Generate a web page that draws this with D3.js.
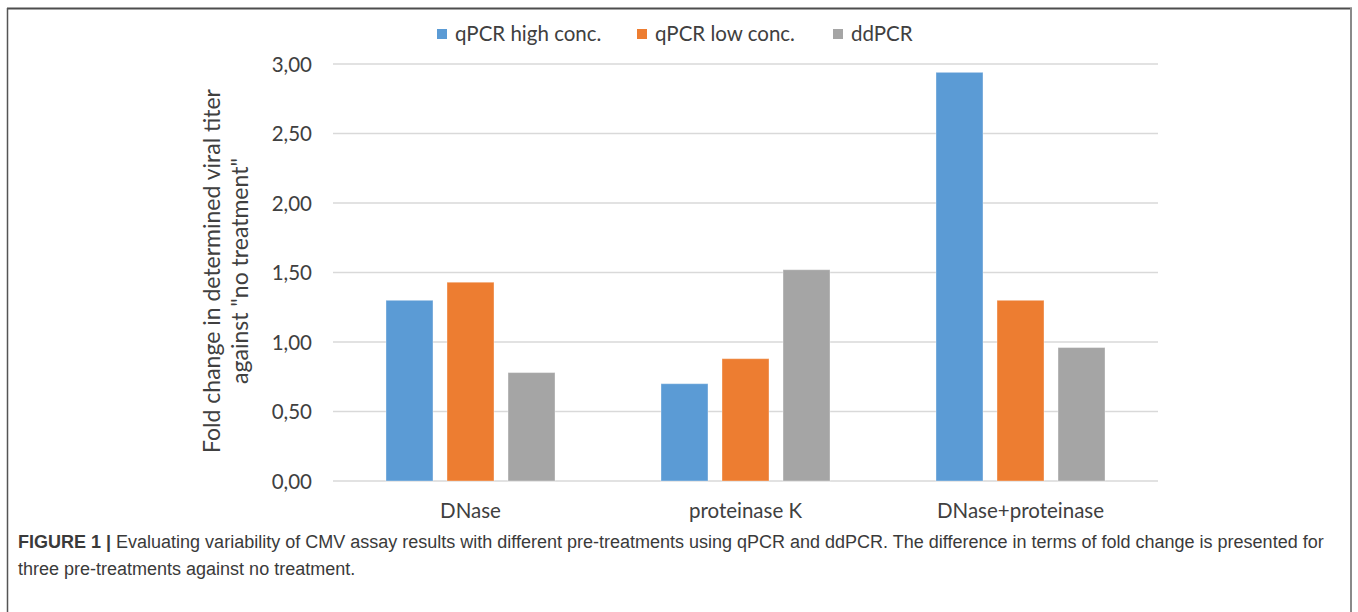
<!DOCTYPE html>
<html>
<head>
<meta charset="utf-8">
<script src="https://cdn.jsdelivr.net/npm/d3@7/dist/d3.min.js"></script>
<style>
  html, body { margin: 0; padding: 0; background: #fff; }
  svg { display: block; }
</style>
</head>
<body>
<svg id="chart" width="1358" height="612"></svg>
<script>
// ---- data ----
const categories = ["DNase", "proteinase K", "DNase+proteinase"];
const seriesNames = ["qPCR high conc.", "qPCR low conc.", "ddPCR"];
const qpcrHigh = [1.30, 0.70, 2.94];
const qpcrLow = [1.43, 0.88, 1.30];
const ddpcr = [0.78, 1.52, 0.96];
const yTicks = [0, 0.5, 1, 1.5, 2, 2.5, 3];
const colors = ["#5b9bd5", "#ed7d31", "#a5a5a5"];
const yTitleLines = ["Fold change in determined viral titer", "against \"no treatment\""];
const captionBold = "FIGURE 1 |";
const captionLine1 = " Evaluating variability of CMV assay results with different pre-treatments using qPCR and ddPCR. The difference in terms of fold change is presented for";
const captionLine2 = "three pre-treatments against no treatment.";

const seriesValues = [qpcrHigh, qpcrLow, ddpcr];

const svg = d3.select("#chart");
const chartFont = "Lato, 'Open Sans', sans-serif";
const captionFont = "'Liberation Sans', Arial, sans-serif";

// frame
svg.append("line").attr("x1", 7).attr("x2", 1352).attr("y1", 8.5).attr("y2", 8.5)
  .attr("stroke", "#4d4d4d").attr("stroke-width", 2);
svg.append("line").attr("x1", 7.5).attr("x2", 7.5).attr("y1", 8).attr("y2", 612)
  .attr("stroke", "#555").attr("stroke-width", 1.5);
svg.append("line").attr("x1", 1351).attr("x2", 1351).attr("y1", 8).attr("y2", 612)
  .attr("stroke", "#8a8a8a").attr("stroke-width", 2);

// scales
const x0 = d3.scaleBand().domain(categories).range([333, 1158]).padding(0);
const x1 = d3.scaleBand().domain(seriesNames).range([53, 222]).paddingInner(0.23).paddingOuter(0);
const y = d3.scaleLinear().domain([0, 3]).range([481, 64]);

// gridlines
const grid = svg.append("g");
grid.selectAll("line").data(yTicks).join("line")
  .attr("x1", 333).attr("x2", 1158)
  .attr("y1", d => y(d)).attr("y2", d => y(d))
  .attr("stroke", "#d9d9d9").attr("stroke-width", 1.5);

// y axis labels
const yAxis = d3.axisLeft(y).tickValues(yTicks).tickSize(0).tickPadding(0)
  .tickFormat(d => d3.format(".2f")(d).replace(".", ","));
const yg = svg.append("g").attr("transform", "translate(312,0)").call(yAxis);
yg.select(".domain").remove();
yg.selectAll("text").attr("font-family", chartFont).attr("font-size", 20.5)
  .attr("fill", "#404040").attr("dy", "0.35em");

// bars
const groups = svg.append("g").selectAll("g").data(categories).join("g")
  .attr("transform", d => `translate(${x0(d)},0)`);
groups.selectAll("rect")
  .data((c, i) => seriesNames.map((s, j) => ({ s, j, v: seriesValues[j][i] })))
  .join("rect")
  .attr("x", d => x1(d.s))
  .attr("width", x1.bandwidth())
  .attr("y", d => y(d.v))
  .attr("height", d => y(0) - y(d.v))
  .attr("fill", d => colors[d.j])
  .attr("stroke", "rgba(255,255,255,0.35)")
  .attr("stroke-width", 1);

// x axis labels
const xAxis = d3.axisBottom(x0).tickSize(0).tickPadding(0);
const xg = svg.append("g").attr("transform", "translate(0,503)").call(xAxis);
xg.select(".domain").remove();
xg.selectAll("text").attr("font-family", chartFont).attr("font-size", 20.5)
  .attr("fill", "#404040").attr("dy", "0.71em");

// y title
const yt = svg.append("text")
  .attr("transform", "translate(226,271) rotate(-90)")
  .attr("text-anchor", "middle")
  .attr("font-family", chartFont).attr("font-size", 23).attr("fill", "#404040");
yt.selectAll("tspan").data(yTitleLines).join("tspan")
  .attr("x", 0).attr("dy", (d, i) => i === 0 ? "-0.25em" : "1.22em")
  .text(d => d);

// legend
const legendX = [437, 637, 833];
const lg = svg.append("g").selectAll("g").data(seriesNames).join("g")
  .attr("transform", (d, i) => `translate(${legendX[i]},29)`);
lg.append("rect").attr("x", 0).attr("y", 0).attr("width", 10).attr("height", 10)
  .attr("fill", (d, i) => colors[i]);
lg.append("text").attr("x", 18).attr("y", 5).attr("dy", "0.35em")
  .attr("font-family", chartFont).attr("font-size", 20.5).attr("fill", "#404040")
  .text(d => d);

// caption
const cap1 = svg.append("text").attr("x", 18).attr("y", 548)
  .attr("font-family", captionFont).attr("font-size", 16.5).attr("fill", "#3a3a3a");
cap1.append("tspan").attr("font-weight", "bold").text(captionBold);
cap1.append("tspan").text(captionLine1);
const cap2 = svg.append("text").attr("x", 18).attr("y", 575)
  .attr("font-family", captionFont).attr("font-size", 16.5).attr("fill", "#3a3a3a")
  .text(captionLine2);
// fit caption width to the reference line width
const w = cap1.node().getComputedTextLength();
const fs = 16.5 * 1322 / w;
cap1.attr("font-size", Math.min(fs, 18));
cap2.attr("font-size", Math.min(fs, 18));
</script>
</body>
</html>
